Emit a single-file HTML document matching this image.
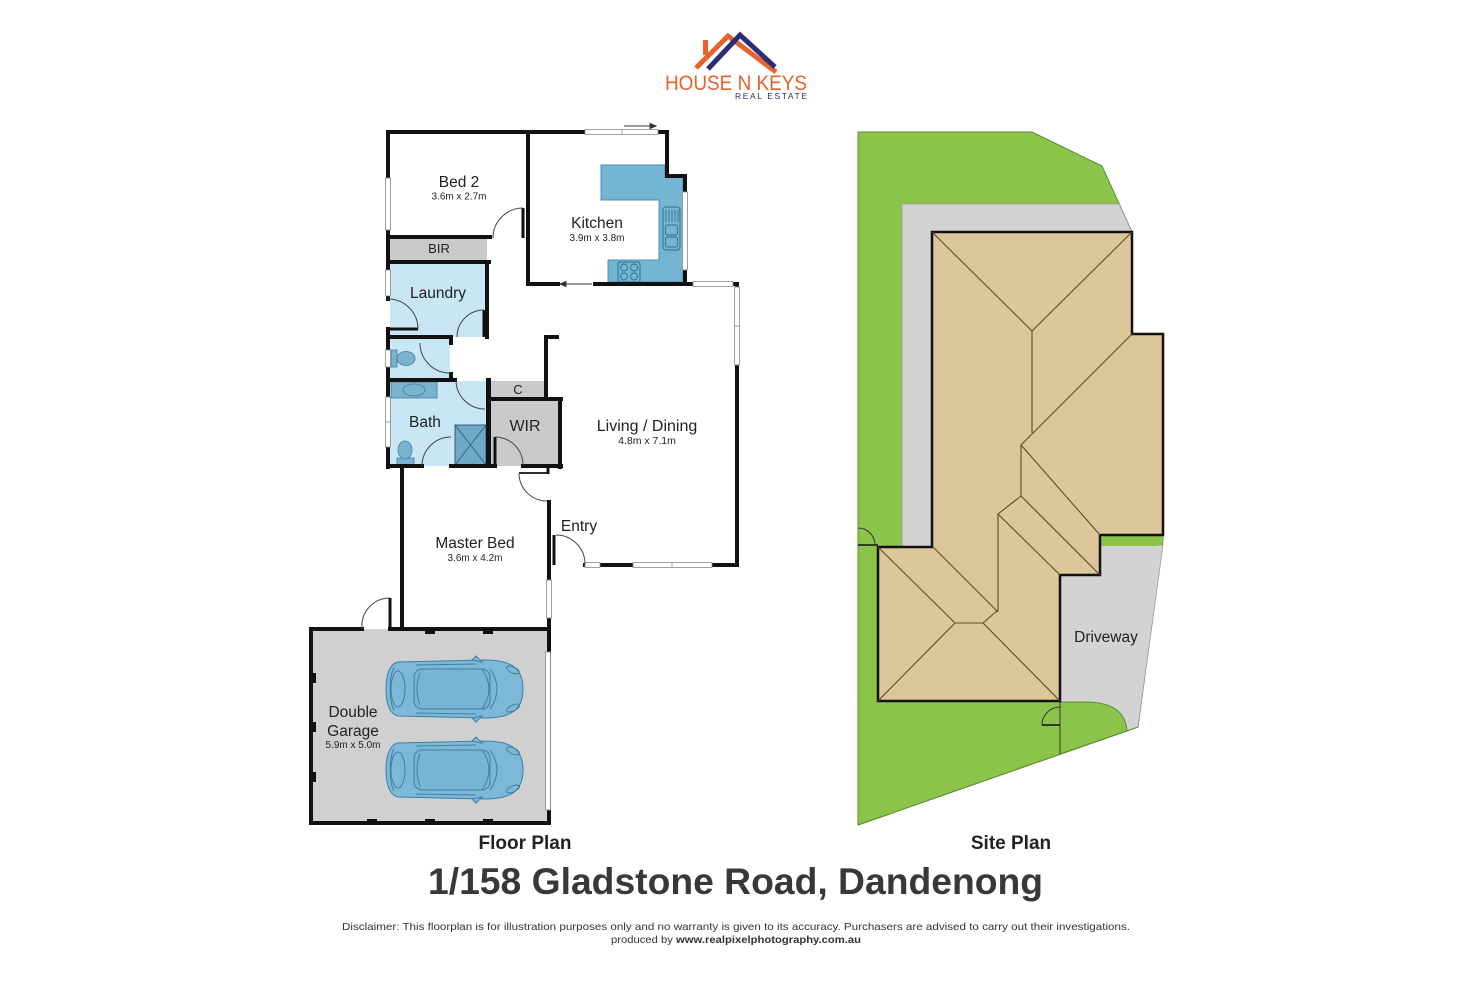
<!DOCTYPE html>
<html><head><meta charset="utf-8">
<style>
html,body{margin:0;padding:0;background:#fff;}
svg{display:block;}
text{font-family:"Liberation Sans",Arial,sans-serif;}
</style></head><body>
<svg width="1472" height="981" viewBox="0 0 1472 981" xmlns="http://www.w3.org/2000/svg">
<defs>
  <g id="car">
    <path d="M12,6 C3,8 0,20 0,33 C0,46 3,58 12,60 L98,62 C124,62 137,55 137,33 C137,11 124,4 98,4 Z" fill="#7db8d8" stroke="#3f7fa0" stroke-width="1"/>
    <path d="M8,12 C3,20 3,46 8,54" fill="none" stroke="#3f7fa0" stroke-width="1"/>
    <ellipse cx="12" cy="33" rx="7" ry="18" fill="none" stroke="#3f7fa0" stroke-width="1"/>
    <rect x="28" y="13" width="76" height="40" rx="8" fill="#7ab4d4" stroke="#3f7fa0" stroke-width="1"/>
    <path d="M34,17 Q28,33 34,49" fill="none" stroke="#3f7fa0" stroke-width="1"/>
    <path d="M96,13 Q110,33 96,53" fill="none" stroke="#3f7fa0" stroke-width="1"/>
    <path d="M104,13 Q118,33 104,53" fill="none" stroke="#3f7fa0" stroke-width="1"/>
    <path d="M30,9 L90,8 M30,57 L90,58" fill="none" stroke="#3f7fa0" stroke-width="1"/>
    <path d="M86,4 L90,0 L96,6 Z M86,62 L90,66 L96,60 Z" fill="#7db8d8" stroke="#3f7fa0" stroke-width="1"/>
    <ellipse cx="127" cy="14" rx="7" ry="3" transform="rotate(25 127 14)" fill="none" stroke="#3f7fa0" stroke-width="1"/>
    <ellipse cx="127" cy="52" rx="7" ry="3" transform="rotate(-25 127 52)" fill="none" stroke="#3f7fa0" stroke-width="1"/>
  </g>
</defs>

<!-- LOGO -->
<g fill="none" stroke-linecap="butt" stroke-linejoin="miter">
  <rect x="703" y="40" width="5" height="15" fill="#e8622c" stroke="none"/>
  <polyline points="696,68 728,36 776,72" stroke="#e8622c" stroke-width="5"/>
  <polyline points="708,69 740,35 775,67" stroke="#2b2e72" stroke-width="5"/>
</g>
<text x="665" y="90" font-size="21" fill="#e8622c" textLength="142" lengthAdjust="spacingAndGlyphs">HOUSE N KEYS</text>
<text x="735" y="99" font-size="8.5" fill="#2b2e72" textLength="72" lengthAdjust="spacing">REAL ESTATE</text>

<!-- FLOOR PLAN FILLS -->
<rect x="390" y="263" width="97" height="74" fill="#c8e6f6"/>
<rect x="390" y="338" width="60" height="41" fill="#c8e6f6"/>
<rect x="390" y="381" width="97" height="85" fill="#c8e6f6"/>
<rect x="390" y="238" width="97" height="24" fill="#cacaca"/>
<rect x="491" y="381" width="54" height="18" fill="#cacaca"/>
<rect x="491" y="400" width="69" height="66" fill="#cacaca"/>
<rect x="311" y="629" width="237" height="194" fill="#d0d0d0"/>

<!-- kitchen counter -->
<polygon points="601,165 665,165 665,177 683,177 683,282 608,282 608,260 659,260 659,200 601,200" fill="#74b5d3" stroke="#4f8fae" stroke-width="1"/>
<rect x="663" y="207" width="17" height="43" rx="3" fill="#74b5d3" stroke="#2f6f8e" stroke-width="1"/>
<path d="M666,210 V222 M669,210 V222 M672,210 V222 M675,210 V222 M678,210 V222" stroke="#2f6f8e" stroke-width="0.8"/>
<rect x="665.5" y="225" width="12" height="10" rx="2" fill="none" stroke="#2f6f8e" stroke-width="0.9"/>
<rect x="665.5" y="237" width="12" height="10" rx="2" fill="none" stroke="#2f6f8e" stroke-width="0.9"/>
<rect x="618" y="262" width="22" height="20" rx="2" fill="#74b5d3" stroke="#2f6f8e" stroke-width="1"/>
<g fill="none" stroke="#2f6f8e" stroke-width="0.9">
<circle cx="624" cy="267.5" r="3.5"/><circle cx="634" cy="267.5" r="3.5"/>
<circle cx="624" cy="276.5" r="3.5"/><circle cx="634" cy="276.5" r="3.5"/>
</g>

<!-- WC toilet -->
<rect x="391" y="350" width="6" height="17" fill="#7ab3cf" stroke="#3f7fa0" stroke-width="0.8"/>
<ellipse cx="406" cy="358.5" rx="9" ry="7" fill="#7ab3cf" stroke="#3f7fa0" stroke-width="0.8"/>
<!-- Bath vanity -->
<rect x="391" y="382" width="46" height="16" fill="#7ab3cf" stroke="#3f7fa0" stroke-width="0.8"/>
<ellipse cx="414" cy="390" rx="11" ry="6" fill="#7ab3cf" stroke="#3f7fa0" stroke-width="0.8"/>
<!-- shower -->
<rect x="455" y="425" width="31" height="40" fill="#6fa9c6" stroke="#2f5f7e" stroke-width="1"/>
<path d="M455,425 L486,465 M486,425 L455,465" stroke="#2f5f7e" stroke-width="0.9"/>
<!-- bath toilet -->
<rect x="397" y="458" width="17" height="7" fill="#7ab3cf" stroke="#3f7fa0" stroke-width="0.8"/>
<ellipse cx="405" cy="450" rx="7" ry="9" fill="#7ab3cf" stroke="#3f7fa0" stroke-width="0.8"/>

<!-- cars -->
<use href="#car" x="386" y="656"/>
<use href="#car" x="386" y="737"/>

<!-- WALLS -->
<path fill="none" stroke="#111" stroke-width="4" stroke-linecap="square" stroke-linejoin="miter" d="
M388,132 H585
M658,132 H667 V176 H685 V284
M528,132 V284 H558
M595,284 H737 V565
M388,132 V299
M388,329 V467
M388,237 H490
M388,262 H489
M487,262 V337
M388,337 H451 V343
M388,380 H455
M451,374 V380
M546,337 V399
M546,337 H557
M490,399 H561
M560,399 V467
M388,466 H422
M451,466 H495
M523,466 H561
M402,466 V629
M549,502 V629
M585,565 H737
M311,629 V823 H549 V629
M311,629 H362
M390,629 H549
"/>
<path fill="none" stroke="#111" stroke-width="5" d="M488.5,378 V468"/>
<path fill="none" stroke="#111" stroke-width="3" d="M548,466 V474"/>

<!-- garage pillars -->
<g fill="#111">
<rect x="425" y="630" width="10" height="4"/><rect x="483" y="630" width="10" height="4"/>
<rect x="367" y="819" width="10" height="4"/><rect x="425" y="819" width="10" height="4"/><rect x="483" y="819" width="10" height="4"/>
<rect x="312" y="673" width="4" height="10"/><rect x="312" y="722" width="4" height="10"/><rect x="312" y="772" width="4" height="10"/>
</g>

<!-- WINDOWS -->
<g fill="#fff" stroke="#8a8a8a" stroke-width="0.8">
<rect x="585" y="129.5" width="73" height="5"/><line x1="622" y1="129.5" x2="622" y2="134.5"/>
<rect x="682.5" y="192" width="5" height="78"/>
<rect x="693" y="281.5" width="40" height="5"/>
<rect x="734.5" y="287" width="5" height="78"/><line x1="734.5" y1="326" x2="739.5" y2="326"/>
<rect x="385.5" y="178" width="5" height="52"/>
<rect x="385.5" y="270" width="5" height="26"/>
<rect x="385.5" y="350" width="5" height="17"/>
<rect x="385.5" y="397" width="5" height="50"/><line x1="385.5" y1="422" x2="390.5" y2="422"/>
<rect x="546.5" y="580" width="5" height="38"/>
<rect x="585" y="562.5" width="15" height="5"/>
<rect x="633" y="562.5" width="79" height="5"/><line x1="672" y1="562.5" x2="672" y2="567.5"/>
<rect x="545.5" y="652" width="5" height="158"/>
</g>

<!-- sliding arrows -->
<g stroke="#333" stroke-width="1" fill="#333">
<line x1="624" y1="126" x2="651" y2="126"/><polygon points="656,126 650,123.5 650,128.5"/>
<line x1="565" y1="284" x2="592" y2="284"/><polygon points="560,284 566,281.5 566,286.5"/>
</g>

<!-- DOORS -->
<g fill="none" stroke="#111" stroke-width="3">
<path d="M523,208 V238"/>
<path d="M388,329 H418"/>
<path d="M484,310 V337"/>
<path d="M495,437 V466"/>
<path d="M554,535 V565"/>
<path d="M390,598 V629"/>
</g>
<g fill="none" stroke="#111" stroke-width="1.8">
<path d="M519,473 H549"/>
</g>
<g fill="none" stroke="#444" stroke-width="1">
<path d="M523,208 A30,30 0 0,0 493,238"/>
<path d="M388,299 A30,30 0 0,1 418,329"/>
<path d="M457,337 A27,27 0 0,1 484,310"/>
<path d="M420,343 A30,30 0 0,0 450,373"/>
<path d="M456,380 A29,29 0 0,0 485,409"/>
<path d="M422,466 A29,29 0 0,1 451,437"/>
<path d="M495,437 A28,28 0 0,1 523,465"/>
<path d="M519,473 A28,28 0 0,0 547,501"/>
<path d="M556,535 A29,29 0 0,1 585,564"/>
<path d="M390,598 A28,28 0 0,0 362,629"/>
</g>

<!-- FLOOR PLAN LABELS -->
<g fill="#222" text-anchor="middle">
<text x="459" y="187" font-size="15.5">Bed 2</text>
<text x="459" y="199.5" font-size="10">3.6m x 2.7m</text>
<text x="597" y="228" font-size="15.5">Kitchen</text>
<text x="597" y="241" font-size="10">3.9m x 3.8m</text>
<text x="439" y="253" font-size="13">BIR</text>
<text x="438" y="298" font-size="15.5">Laundry</text>
<text x="518" y="394" font-size="13">C</text>
<text x="425" y="427" font-size="15.5">Bath</text>
<text x="525" y="431" font-size="16">WIR</text>
<text x="647" y="431" font-size="16">Living / Dining</text>
<text x="647" y="444" font-size="10.5">4.8m x 7.1m</text>
<text x="579" y="531" font-size="15.5">Entry</text>
<text x="475" y="548" font-size="15.5">Master Bed</text>
<text x="475" y="561" font-size="10">3.6m x 4.2m</text>
<text x="353" y="717" font-size="15.5">Double</text>
<text x="353" y="736" font-size="15.5">Garage</text>
<text x="353" y="748" font-size="10">5.9m x 5.0m</text>
</g>

<!-- SITE PLAN -->
<polygon points="858,132 1032,132 1102,166 1132,232 1132,334 1163,334 1163,540 1138,727 858,825" fill="#8cc44b" stroke="#5b8f2e" stroke-width="1"/>
<polygon points="902,204 1119,204 1132,232 932,232 932,547 902,547" fill="#d3d3d3" stroke="#9a9a9a" stroke-width="0.8"/>
<polygon points="1100,545 1163,545 1138,727 1060,754 1060,575 1100,575" fill="#d3d3d3" stroke="#9a9a9a" stroke-width="0.8"/>
<path d="M1100,535 H1163 V541 Q1162,546 1156,546 H1100 Z" fill="#8cc44b"/>
<path d="M1060,702 H1088 Q1125,703 1127,731 L1060,754 Z" fill="#8cc44b" stroke="#5b8f2e" stroke-width="1"/>
<line x1="858" y1="825" x2="1138" y2="727" stroke="#5b8f2e" stroke-width="1"/>
<line x1="1060" y1="700" x2="1060" y2="754" stroke="#333" stroke-width="1"/>
<path d="M1042,725 A18,18 0 0,1 1060,707" fill="none" stroke="#333" stroke-width="1"/>
<line x1="1042" y1="725" x2="1060" y2="725" stroke="#111" stroke-width="1.5"/>
<path d="M858,528 A17,17 0 0,1 875,545" fill="none" stroke="#333" stroke-width="1"/>
<line x1="858" y1="545" x2="878" y2="545" stroke="#111" stroke-width="1.5"/>

<polygon points="932,232 1132,232 1132,334 1163,334 1163,535 1100,535 1100,575 1060,575 1060,701 878,701 878,547 932,547" fill="#dbc79a" stroke="#111" stroke-width="2.5"/>
<g fill="none" stroke="#5e4b1e" stroke-width="1.1">
<path d="M932,232 L1032,331 L1132,232"/>
<path d="M1032,331 V433"/>
<path d="M1132,334 L1021,445 L1100,535"/>
<path d="M1021,445 V496 L1100,575"/>
<path d="M1021,496 L998,514 L1060,575"/>
<path d="M998,514 V610 L983,623 H955"/>
<path d="M933,547 L998,612"/>
<path d="M878,547 L955,623 L878,701"/>
<path d="M983,623 L1060,701"/>
</g>
<text x="1106" y="642" font-size="15.5" fill="#222" text-anchor="middle">Driveway</text>

<!-- TITLES -->
<text x="525" y="849" font-size="19" font-weight="bold" fill="#222" text-anchor="middle">Floor Plan</text>
<text x="1011" y="849" font-size="19" font-weight="bold" fill="#222" text-anchor="middle">Site Plan</text>
<text x="428" y="894" font-size="37" font-weight="bold" fill="#383838" textLength="615" lengthAdjust="spacingAndGlyphs">1/158 Gladstone Road, Dandenong</text>
<text x="342" y="930" font-size="10.5" fill="#333" textLength="788" lengthAdjust="spacingAndGlyphs">Disclaimer: This floorplan is for illustration purposes only and no warranty is given to its accuracy. Purchasers are advised to carry out their investigations.</text>
<text x="611" y="943" font-size="10.5" fill="#333" textLength="250" lengthAdjust="spacingAndGlyphs">produced by <tspan font-weight="bold">www.realpixelphotography.com.au</tspan></text>
</svg>
</body></html>
